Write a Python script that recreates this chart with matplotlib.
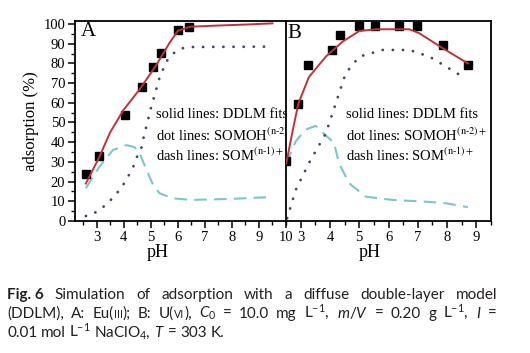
import matplotlib
matplotlib.use("Agg")
import matplotlib.pyplot as plt
from matplotlib.ticker import MultipleLocator

plt.rcParams['font.family'] = ['Liberation Serif', 'DejaVu Serif']
plt.rcParams['mathtext.fontset'] = 'custom'
plt.rcParams['mathtext.rm'] = 'Lato'
plt.rcParams['mathtext.it'] = 'Lato:italic'
plt.rcParams['mathtext.bf'] = 'Lato:bold'

# ---------------- data ----------------
A_sq_x = [2.6, 3.07, 4.05, 4.66, 5.09, 5.37, 5.99, 6.4]
A_sq_y = [24, 33, 54, 68, 78, 85.5, 97, 98.6]
A_fit_x = [2.6, 3.1, 3.5, 4.0, 4.6, 5.2, 5.7, 6.0, 6.45, 7.5, 8.5, 9.5]
A_fit_y = [19, 32.5, 45, 56.5, 67, 79, 90.5, 96.5, 98.6, 99.2, 99.7, 100.3]
A_dot_x = [2.6, 3.0, 3.37, 3.68, 3.94, 4.16, 4.34, 4.47, 4.65, 4.73, 5.0, 5.33,
           5.58, 5.83, 6.14, 6.5, 9.5]
A_dot_y = [2.5, 4.6, 8.5, 13, 17.4, 22.5, 27, 32, 37, 42, 57, 73,
           81, 85, 87.6, 88.3, 88.5]
A_dash_x = [2.6, 3.1, 3.6, 4.1, 4.4, 4.6, 4.95, 5.1, 5.33, 5.83, 6.5, 7.96, 9.2, 9.5]
A_dash_y = [16.6, 27.5, 36, 38.5, 37.5, 34, 22.5, 18, 14, 11.5, 10.7, 11.2, 12, 12]

B_sq_x = [2.51, 2.92, 3.26, 4.06, 4.34, 5.0, 5.55, 6.35, 6.99, 7.87, 8.71]
B_sq_y = [30.5, 59.5, 79.3, 86.8, 94.2, 99, 99, 99.1, 99.1, 89.3, 79.3]
B_fit_x = [2.51, 2.71, 2.92, 3.28, 3.86, 4.43, 5.0, 5.57, 6.71, 7.05, 7.85, 8.71]
B_fit_y = [29.3, 44.5, 59.5, 73, 83.4, 91, 96.4, 97.3, 97.3, 95.3, 87.7, 80]
B_dot_x = [2.54, 2.83, 3.28, 3.86, 4.2, 4.54, 5.0, 5.8, 6.71, 7.4, 7.97, 8.49]
B_dot_y = [1.4, 15.7, 29.3, 44.5, 59.7, 75, 83.4, 86.8, 86.8, 83.4, 78.3, 73.6]
B_dash_x = [2.51, 2.83, 3.17, 3.51, 3.86, 4.14, 4.31, 4.66, 5.23, 6.14, 7.28, 7.97, 8.71]
B_dash_y = [29.3, 40.4, 46.4, 48.3, 43.4, 39.6, 29.3, 19.1, 12.3, 10.7, 9.8, 9, 7]

A_xticks = [3, 4, 5, 6, 7, 8, 9, 10]
B_xticks = [3, 4, 5, 6, 7, 8, 9]
yticks = [0, 10, 20, 30, 40, 50, 60, 70, 80, 90, 100]

legend_lines = ["solid lines: DDLM fits",
                r"dot lines: SOMOH$^{\rm (n\text{-}2)+}$",
                r"dash lines: SOM$^{\rm (n\text{-}1)+}$"]

# ---------------- styling ----------------
W, H = 530, 353
serif = ['Liberation Serif', 'DejaVu Serif']
RED = '#c0323a'
DOT = '#3f4660'
DASH = '#7cc6c9'

fig = plt.figure(figsize=(W / 100, H / 100), dpi=100)
axA = fig.add_axes([75 / W, 1 - 221 / H, 211 / W, 200 / H])
axB = fig.add_axes([286 / W, 1 - 221 / H, 205 / W, 200 / H])


def draw(ax, sx, sy, fx, fy, dx, dy, hx, hy):
    ax.plot(hx, hy, color=DASH, lw=1.5, linestyle=(0, (6, 3.5)))
    ax.plot(dx, dy, color=DOT, lw=2.0, linestyle=(0, (0.05, 3.6)),
            dash_capstyle='round')
    ax.plot(sx, sy, 's', color='black', ms=5.2, zorder=3)
    ax.plot(fx, fy, color=RED, lw=1.4, zorder=4)
    ax.set_ylim(0, 101.5)
    ax.yaxis.set_minor_locator(MultipleLocator(5))
    ax.xaxis.set_minor_locator(MultipleLocator(0.5))
    ax.tick_params(which='major', direction='out', length=5, width=1.1,
                   labelsize=10.5, pad=2)
    ax.tick_params(which='minor', direction='out', length=3, width=1.0)
    for s in ax.spines.values():
        s.set_linewidth(1.3)


draw(axA, A_sq_x, A_sq_y, A_fit_x, A_fit_y, A_dot_x, A_dot_y, A_dash_x, A_dash_y)
draw(axB, B_sq_x, B_sq_y, B_fit_x, B_fit_y, B_dot_x, B_dot_y, B_dash_x, B_dash_y)

axA.set_xlim(2.2, 10)
axA.set_xticks(A_xticks)
axA.set_xticklabels([str(t) for t in A_xticks])
axA.set_yticks(yticks)
axA.set_yticklabels([str(t) for t in yticks])
axA.spines['right'].set_visible(False)
axA.tick_params(axis='y', which='both', right=False)

axB.set_xlim(2.5, 9.5)
axB.set_xticks(B_xticks)
axB.set_xticklabels([str(t) for t in B_xticks])
axB.set_yticks(yticks)
axB.tick_params(axis='y', which='both', left=False, labelleft=False)

axA.set_ylabel("adsorption (%)", fontsize=12, labelpad=3)
axA.text(0.39, -0.115, "pH", transform=axA.transAxes, ha='center', va='top',
         fontsize=13)
axB.text(0.41, -0.115, "pH", transform=axB.transAxes, ha='center', va='top',
         fontsize=13)

fig.text(81 / W, 1 - 32 / H, "A", fontsize=15, va='center', ha='left')
fig.text(287 / W, 1 - 33 / H, "B", fontsize=15, va='center', ha='left')

for ax, lx in ((axA, 156), (axB, 346)):
    for i, s in enumerate(legend_lines):
        t = ax.text(lx / W, 1 - (115 + 20 * i) / H, s, transform=fig.transFigure,
                    fontsize=10.5, va='center', ha='left', math_fontfamily='stix',
                    clip_on=True)

# ---------------- caption (justified) ----------------
cap_fam = ['Lato', 'DejaVu Sans']
base = dict(family=cap_fam, size=11, color='#231f20')
bold = dict(base, weight='bold')
small = dict(base, size=7.7)


def words(s):
    return [[(w, base)] for w in s.split()]


line1 = [[("Fig. 6", bold)]] + words("Simulation of adsorption with a diffuse double-layer model")
line2 = (words("(DDLM), A:") +
         [[("Eu(", base), ("III", small), (");", base)]] +
         words("B:") +
         [[("U(", base), ("VI", small), ("),", base)]] +
         [[(r"$C_{\rm 0}$", base)]] + words("= 10.0 mg") +
         [[(r"L$^{-1}$,", base)], [(r"$m/V$", base)]] + words("= 0.20 g") +
         [[(r"L$^{-1}$,", base)], [(r"$I$", base)]] + words("="))
line3 = (words("0.01 mol") + [[(r"L$^{-1}$", base)], [(r"NaClO$_{4}$,", base)],
                              [(r"$T$", base)]] + words("= 303 K."))

cap_lines = [(line1, 299, True), (line2, 318, True), (line3, 337, False)]
x0, x1 = 7, 497

objs = []
for line, yb, just in cap_lines:
    lo = []
    for w in line:
        wo = []
        for s, p in w:
            t = fig.text(0, 1 - yb / H, s, va='baseline', ha='left', **p)
            wo.append(t)
        lo.append(wo)
    objs.append((lo, yb, just))

fig.canvas.draw()
r = fig.canvas.get_renderer()
space = 3.4
for lo, yb, just in objs:
    widths = [[t.get_window_extent(r).width for t in wo] for wo in lo]
    wsum = [sum(ws) for ws in widths]
    if just:
        gap = (x1 - x0 - sum(wsum)) / (len(lo) - 1)
    else:
        gap = space
    x = x0
    for wo, ws in zip(lo, widths):
        xx = x
        for t, w in zip(wo, ws):
            t.set_x(xx / W)
            xx += w
        x = xx + gap

fig.savefig("out.png", dpi=100)
